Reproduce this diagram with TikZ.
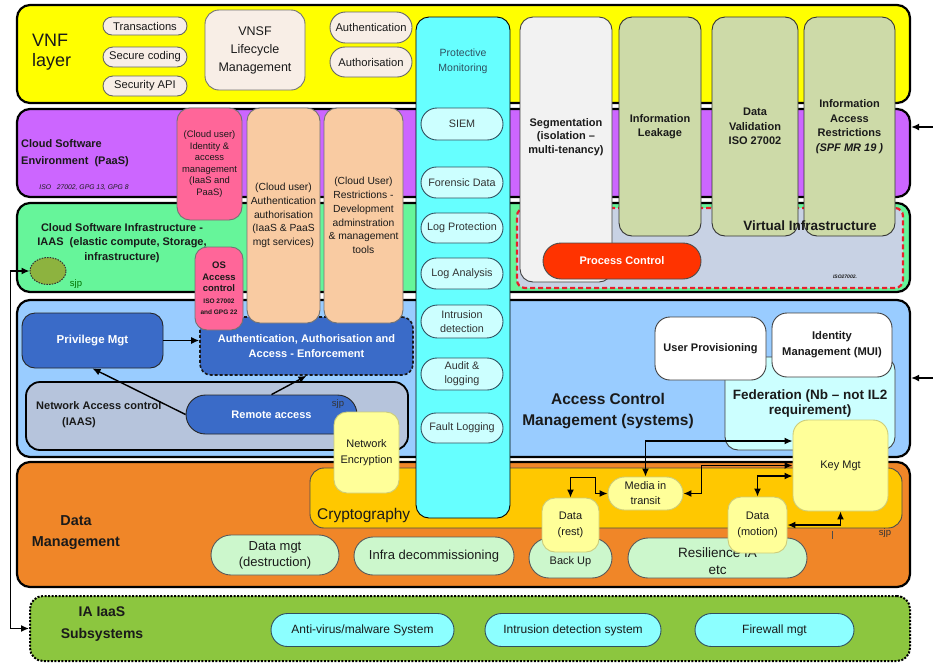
\documentclass[tikz,border=0pt]{standalone}
\usepackage{fontspec}
\setmainfont{Liberation Sans}
\usetikzlibrary{arrows.meta,shapes.misc,shapes.geometric,calc}
\definecolor{cyel}{HTML}{FFFF00}
\definecolor{cpur}{HTML}{CC66FF}
\definecolor{cgrn}{HTML}{66F59A}
\definecolor{cblu}{HTML}{99CCFF}
\definecolor{corg}{HTML}{F08628}
\definecolor{cia}{HTML}{8CC63F}
\definecolor{ccyan}{HTML}{66FFFF}
\definecolor{clcyan}{HTML}{CCFFFF}
\definecolor{cbeige}{HTML}{F8EEE6}
\definecolor{cpeach}{HTML}{F9CBA2}
\definecolor{cpink}{HTML}{FF6699}
\definecolor{colive}{HTML}{CDDAA8}
\definecolor{cseg}{HTML}{F2F2F2}
\definecolor{cdblue}{HTML}{3A6BC8}
\definecolor{cnac}{HTML}{B6C4DC}
\definecolor{clyel}{HTML}{FFFF99}
\definecolor{cgold}{HTML}{FFC800}
\definecolor{clgrn}{HTML}{CCF7CC}
\definecolor{cred}{HTML}{FF3300}
\definecolor{cvi}{HTML}{C8D2E4}
\definecolor{cdash}{HTML}{E8202A}
\definecolor{ctxt}{HTML}{1A1A1A}
\definecolor{cpmt}{HTML}{2F5060}
\definecolor{ccirc}{HTML}{8DB33F}
\newcommand{\fz}[2]{\fontsize{#1pt}{#2pt}\selectfont}
\tikzset{
  bandbox/.style={draw=black,line width=2.2pt,rounded corners=13pt,inner sep=0pt,minimum width=893pt},
  rbox/.style={draw=black!75,line width=0.9pt,rounded corners=11pt,align=center,inner sep=1pt,text=ctxt},
  pbox/.style={rounded rectangle,draw=black!75,line width=0.9pt,align=center,inner sep=1pt,text=ctxt},
  lbl/.style={inner sep=0pt,align=center,text=ctxt},
  vpill/.style={pbox,fill=cbeige,draw=black!60,minimum width=86pt,font=\fz{11.2}{13}},
  pmpill/.style={pbox,fill=clcyan,draw=cpmt,minimum width=84pt,text=black!80,font=\fz{10.8}{14}},
  olive/.style={rbox,fill=colive,draw=black!80,minimum height=219pt,font=\bfseries\fz{11}{14.5},rounded corners=13pt},
  peach/.style={rbox,fill=cpeach,draw=black!55,minimum height=215pt,font=\fz{10.3}{13.7},rounded corners=13pt},
  dblue/.style={rbox,fill=cdblue,draw=black!85,text=white,font=\bfseries\fz{11}{15}},
  lyel/.style={rbox,fill=clyel,draw=clyel!80!black,rounded corners=13pt,font=\fz{11}{16}},
  dmpill/.style={pbox,fill=clgrn,draw=black!65,font=\fz{13}{16}},
  iapill/.style={pbox,fill=ccyan!75!white,draw=cpmt,minimum height=33pt,font=\fz{12}{14}},
  arr/.style={-{Latex[length=8pt,width=7pt]},line width=1.4pt},
  arrb/.style={{Latex[length=8pt,width=7pt]}-{Latex[length=8pt,width=7pt]},line width=1.4pt},
}
\begin{document}
\begin{tikzpicture}[x=1pt,y=-1pt]
\useasboundingbox (0,0) rectangle (933,665);
\fill[white] (0,0) rectangle (933,665);

% ---------------- bands
\node[bandbox,fill=cyel,minimum height=98pt] (vnf) at (463.5,54) {};
\node[bandbox,fill=cpur,minimum height=88pt] (cse) at (463.5,153) {};
\node[bandbox,fill=cgrn,minimum height=89pt] (csi) at (463.5,247.5) {};
\node[bandbox,fill=cblu,minimum height=157pt] (acm) at (463.5,378.5) {};
\node[bandbox,fill=corg,minimum height=125pt] (dm) at (463.5,524.5) {};
\node[bandbox,fill=cia,minimum width=880pt,minimum height=65pt,line width=2pt,dash pattern=on 2pt off 1.5pt] (ia) at (470,628.5) {};

% ---------------- band labels
\node[lbl,anchor=west,align=left,font=\fz{18}{20}] (vnflbl) at (32,52) {VNF\\layer};
\node[lbl,anchor=west,align=left,font=\bfseries\fz{11}{16.5}] (cselbl) at (21,153) {Cloud Software\\Environment\ \ (PaaS)};
\node[lbl,font=\itshape\fz{6.8}{8}] (cseiso) at (84,188) {ISO\ \ \ 27002, GPG 13, GPG 8};
\node[lbl,font=\bfseries\fz{11}{14.5}] (csilbl) at (122,243) {Cloud Software Infrastructure -\\IAAS\ \ (elastic compute, Storage,\\infrastructure)};
\node[ellipse,fill=ccirc,draw=black!80,line width=1pt,dash pattern=on 1.5pt off 1.2pt,minimum width=36pt,minimum height=27pt,inner sep=0pt] (circ) at (48,271) {};
\node[lbl,text=green!45!black,font=\fz{9.5}{11}] (sjpa) at (76,284) {sjp};
\node[lbl,font=\bfseries\fz{15.5}{21}] (acmlbl) at (608,411.5) {Access Control\\Management (systems)};
\node[lbl,font=\bfseries\fz{14.4}{21}] (dmlbl) at (76,532.5) {Data\\Management};
\node[lbl,font=\bfseries\fz{14}{22}] (ialbl) at (102,624) {IA IaaS\\Subsystems};

% ---------------- virtual infrastructure region
\node[draw=cdash,line width=2.2pt,dash pattern=on 5pt off 3pt,fill=cvi,rounded corners=8pt,minimum width=386pt,minimum height=80pt,inner sep=0pt] (vi) at (710,248) {};

% ---------------- cryptography
\node[rbox,fill=cgold,draw=black!70,minimum width=592pt,minimum height=60pt,rounded corners=14pt] (crypt) at (606,498) {};
\node[lbl,anchor=west,font=\fz{15.5}{18}] (cryptlbl) at (317,515) {Cryptography};

% ---------------- VNF layer content
\node[vpill,minimum height=18pt] (trans) at (145,26) {Transactions};
\node[vpill,minimum height=20pt] (secc) at (145,57) {Secure coding};
\node[vpill,minimum height=20pt] (secapi) at (145,86) {Security API};
\node[rbox,fill=cbeige,draw=black!55,minimum width=100pt,minimum height=80pt,rounded corners=14pt,font=\fz{12.5}{18}] (vnsf) at (255,50) {VNSF\\Lifecycle\\Management};
\node[vpill,minimum width=84pt,minimum height=31pt] (authn) at (371,27.5) {Authentication};
\node[vpill,minimum width=84pt,minimum height=30pt] (authz) at (371,62) {Authorisation};

% ---------------- protective monitoring column
\node[rbox,draw=black,fill=ccyan,minimum width=94pt,minimum height=501pt,rounded corners=13pt] (pm) at (463,267.5) {};
\node[lbl,text=cpmt,font=\fz{10.5}{15}] (pmlbl) at (463,61) {Protective\\Monitoring};
\node[pmpill,minimum height=32pt] (siem) at (462,124) {SIEM};
\node[pmpill,minimum height=31pt] (foren) at (462,182.5) {Forensic Data};
\node[pmpill,minimum height=30pt] (logp) at (462,228) {Log Protection};
\node[pmpill,minimum height=31pt] (loga) at (462,273.5) {Log Analysis};
\node[pmpill,minimum height=33pt] (intr) at (462,321.5) {Intrusion\\detection};
\node[pmpill,minimum height=32pt] (audit) at (462,374) {Audit \&\\logging};
\node[pmpill,minimum height=30pt] (fault) at (462,428) {Fault Logging};

% ---------------- tall boxes right
\node[rbox,fill=cseg,draw=black!75,minimum width=92pt,minimum height=265pt,rounded corners=13pt] (seg) at (566,149.5) {};
\node[lbl,font=\bfseries\fz{11}{13.5}] (seglbl) at (566,137) {Segmentation\\(isolation –\\multi-tenancy)};
\node[olive,minimum width=82pt] (leak) at (660,126.5) {Information\\Leakage};
\node[olive,minimum width=86pt] (dval) at (755,126.5) {Data\\Validation\\ISO 27002};
\node[olive,minimum width=91pt] (iar) at (849.5,126.5) {Information\\Access\\Restrictions\\\textit{(SPF MR 19 )}};
\node[lbl,font=\bfseries\fz{13.5}{16}] (vilbl) at (810,226) {Virtual Infrastructure};
\node[lbl,font=\bfseries\itshape\fz{5}{6}] (viiso) at (845,277) {ISO27002.};
\node[pbox,fill=cred,draw=black!70,text=white,minimum width=160pt,minimum height=36pt,font=\bfseries\fz{11}{13}] (proc) at (622,261) {Process Control};

% ---------------- access enforcement and cloud user boxes
\node[dblue,draw=black!90,line width=1.6pt,dash pattern=on 3pt off 2pt,minimum width=213pt,minimum height=58pt] (aaa) at (306.5,346) {Authentication, Authorisation and\\Access - Enforcement};
\node[peach,minimum width=73pt] (peacha) at (283.5,215.5) {(Cloud user)\\Authentication\\authorisation\\(IaaS \& PaaS\\mgt services)};
\node[peach,minimum width=79pt] (peachb) at (363.5,215.5) {(Cloud User)\\Restrictions -\\Development\\adminstration\\\& management\\tools};
\node[rbox,fill=cpink,draw=black!55,minimum width=65pt,minimum height=112pt,rounded corners=13pt,font=\fz{9.4}{11.6}] (pinka) at (209.5,164) {(Cloud user)\\Identity \&\\access\\management\\(IaaS and\\PaaS)};
\node[rbox,fill=cpink,draw=black!55,minimum width=48pt,minimum height=83pt,rounded corners=12pt,font=\bfseries\fz{9.5}{11.5}] (pinkb) at (219,288.5) {OS\\Access\\control\\{\fz{6.5}{8}ISO 27002}\\{\fz{6.5}{8}and GPG 22}};

% ---------------- access control content
\node[dblue,minimum width=141pt,minimum height=55pt,rounded corners=13pt,font=\bfseries\fz{11.5}{14}] (priv) at (92.5,340.5) {Privilege Mgt};
\node[rbox,fill=cnac,draw=black,line width=1.8pt,minimum width=382pt,minimum height=68pt,rounded corners=14pt] (nac) at (217,416) {};
\node[lbl,anchor=west,align=left,font=\bfseries\fz{11}{16}] (naclbl) at (36,415) {Network Access control\\\hspace*{26pt}(IAAS)};
\node[pbox,fill=cdblue,draw=black!85,text=white,minimum width=173pt,minimum height=39pt,font=\bfseries\fz{11}{13}] (remote) at (271.5,414.5) {Remote access};
\node[lbl,text=black!80,font=\fz{9.5}{11}] (sjpb) at (338,404) {sjp};
\node[lyel,minimum width=65pt,minimum height=81pt] (netenc) at (366.5,452.5) {Network\\Encryption};

\node[rbox,fill=clcyan,draw=black!75,minimum width=170pt,minimum height=93pt,rounded corners=13pt,font=\bfseries\fz{13.5}{15.5}] (fed) at (810,403.5) {Federation (Nb – not IL2\\requirement)};
\node[rbox,fill=white,draw=black!75,minimum width=111pt,minimum height=63pt,rounded corners=15pt,font=\bfseries\fz{11}{14}] (uprov) at (710.5,348.5) {User Provisioning};
\node[rbox,fill=white,draw=black!75,minimum width=120pt,minimum height=64pt,rounded corners=15pt,font=\bfseries\fz{11.2}{16}] (idm) at (832,345) {Identity\\Management (MUI)};
\node[lyel,minimum width=95pt,minimum height=91pt,rounded corners=15pt] (key) at (840.5,465.5) {Key Mgt};

% ---------------- data management content
\node[dmpill,minimum width=130pt,minimum height=40pt] (dmd) at (275,555) {Data mgt\\(destruction)};
\node[dmpill,minimum width=162pt,minimum height=38pt] (infra) at (434,556) {Infra decommissioning};
\node[dmpill,minimum width=85pt,minimum height=40pt] (backup) at (570.5,558) {};
\node[lbl,font=\fz{11}{13}] (backuplbl) at (570.5,562) {Back Up};
\node[dmpill,minimum width=181pt,minimum height=40pt] (resil) at (717.5,558) {};
\node[lbl,font=\fz{13.5}{17}] (resillbl) at (717.5,561.5) {Resilience IA\\etc};
\node[lyel,minimum width=57pt,minimum height=54pt] (drest) at (570.5,525) {Data\\(rest)};
\node[pbox,fill=clyel,draw=clyel!80!black,minimum width=77pt,minimum height=33pt,font=\fz{11}{15}] (media) at (645.5,493.5) {Media in\\transit};
\node[lyel,minimum width=59pt,minimum height=56pt] (dmot) at (757.5,525) {Data\\(motion)};
\node[lbl,text=black!80,font=\fz{9.5}{11}] (sjpc) at (885,533) {sjp};
\draw[line width=0.6pt,black!70] (832,531) -- (832,539);

% ---------------- IA IaaS subsystems
\node[iapill,minimum width=185pt] (av) at (362.5,630) {Anti-virus/malware System};
\node[iapill,minimum width=178pt] (ids) at (573,630) {Intrusion detection system};
\node[iapill,minimum width=161pt] (fw) at (774.5,630) {Firewall mgt};

% ---------------- connectors
\draw[arr] (priv.east) -- (priv.east -| aaa.west);
\draw[arr] (remote.west) -- (priv.south);
\draw[arr] (remote.north) -- (aaa.south);
\draw[arrb] (media.north) |- ($(key.west)+(0,-24.5)$);
\draw[arrb] (media.east) -- ++(18,0) |- (key.west);
\draw[arrb] (dmot.north) |- ($(key.west)+(0,10.5)$);
\draw[arrb] (dmot.east) -| (key.south);
\draw[arrb] (drest.north) -- ++(0,-20) -| ($(media.west)+(-12,0)$) -- (media.west);
\draw[arrb] (circ.west) -- ++(-19,0) |- (ia.west);
\coordinate (rin) at (933,127);
\coordinate (rinb) at (933,378);
\draw[arr] (rin) -- (rin -| cse.east);
\draw[arr] (rinb) -- (rinb -| acm.east);
\end{tikzpicture}
\end{document}
